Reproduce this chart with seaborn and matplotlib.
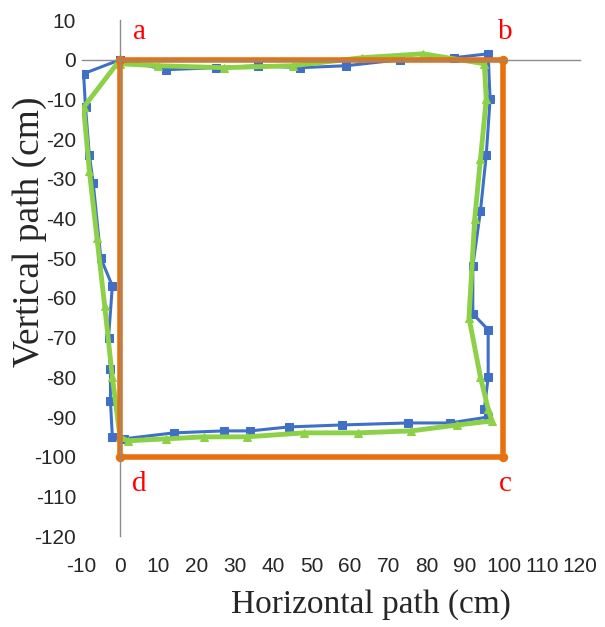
import numpy as np
import pandas as pd
import seaborn as sns
from matplotlib import pyplot as plt

# reference square a-b-c-d
ref_x = [0, 100, 100, 0, 0]
ref_y = [0, 0, -100, -100, 0]

# measured path 1 (blue squares)
blue_x = [0, 12, 25, 36, 47, 59, 73, 87, 96, 96.5, 95.5, 94, 92, 92, 96, 96,
          95, 96, 86, 75, 58, 44, 34, 27, 14, 1, -2, -2.5, -2.5, -3, -2, -5,
          -7, -8, -9, -9.5, 0]
blue_y = [0, -2.5, -2, -1.5, -2, -1.5, 0, 0.5, 1.5, -10, -24, -38, -52, -64,
          -68, -80, -88, -90, -91.5, -91.5, -92, -92.5, -93.5, -93.5, -94,
          -95.5, -95, -86, -78, -70, -57, -50, -31, -24, -12, -3.5, 0]

# measured path 2 (green triangles)
green_x = [0, 10, 27, 45, 63, 79, 95, 95.5, 94, 92.5, 91, 94, 96, 97, 88, 76,
           62, 48, 33, 22, 12, 2, 0, -2, -4, -6, -8, -9.5, 0]
green_y = [-1, -1.5, -2, -1.5, 0.5, 1.5, -1, -10, -25, -40, -65, -80, -88,
           -91, -92, -93.5, -94, -94, -95, -95, -95.5, -96, -95, -80, -62, -45,
           -28, -12, 0]

corner_labels = ["a", "b", "c", "d"]
corner_pos = [(5, 7), (100.5, 7), (100.5, -107), (5, -107)]

x_ticks = list(range(-10, 121, 10))
y_ticks = list(range(-120, 11, 10))

sns.set_style("white")
plt.rcParams["font.family"] = ["Liberation Sans", "DejaVu Sans"]
plt.rcParams["axes.unicode_minus"] = False

fig = plt.figure(figsize=(6.05, 6.27), dpi=100)
rect = [0.135, 0.145, 0.824, 0.823]
ax = fig.add_axes(rect)

sns.lineplot(x=blue_x, y=blue_y, sort=False, estimator=None, ax=ax,
             color="#3F6FC6", linewidth=2.2, marker="s", markersize=6,
             markeredgecolor="#3F6FC6")
sns.lineplot(x=green_x, y=green_y, sort=False, estimator=None, ax=ax,
             color="#8CD148", linewidth=3.5, marker="^", markersize=6,
             markeredgecolor="#8CD148")
sns.lineplot(x=ref_x, y=ref_y, sort=False, estimator=None, ax=ax,
             color="#E8710F", linewidth=4, marker="o", markersize=6,
             markeredgecolor="#E8710F")

for lab, (tx, ty) in zip(corner_labels, corner_pos):
    ax.text(tx, ty, lab, color="#FF0000", fontsize=21,
            family=["Liberation Serif"], ha="center", va="center")

ax.set_xlim(-10, 120)
ax.set_ylim(-120, 10)
ax.set_xticks(x_ticks)
ax.set_yticks(y_ticks)
for side in ["top", "right"]:
    ax.spines[side].set_visible(False)
for side in ["left", "bottom"]:
    ax.spines[side].set_position(("data", 0))
    ax.spines[side].set_color("#8C8C8C")
    ax.spines[side].set_linewidth(1)
ax.tick_params(axis="both", direction="out", length=4, width=1,
               color="#8C8C8C", labelleft=False, labelbottom=False)
ax.set_xlabel("")
ax.set_ylabel("")

# labels sit at the low side of the plot, Excel style
lab = fig.add_axes(rect, sharex=ax, sharey=ax)
lab.patch.set_visible(False)
for s in lab.spines.values():
    s.set_visible(False)
lab.tick_params(axis="both", length=0, labelsize=15, labelcolor="#262626")
lab.tick_params(axis="x", pad=15)
lab.tick_params(axis="y", pad=4)
lab.set_xlabel("Horizontal path (cm)", fontsize=24, family=["Liberation Serif"])
lab.set_ylabel("Vertical path (cm)", fontsize=27, family=["Liberation Serif"])
lab.xaxis.set_label_coords(0.58, -0.103)
lab.yaxis.set_label_coords(-0.07, 0.59)

fig.savefig("out.png", dpi=100)
